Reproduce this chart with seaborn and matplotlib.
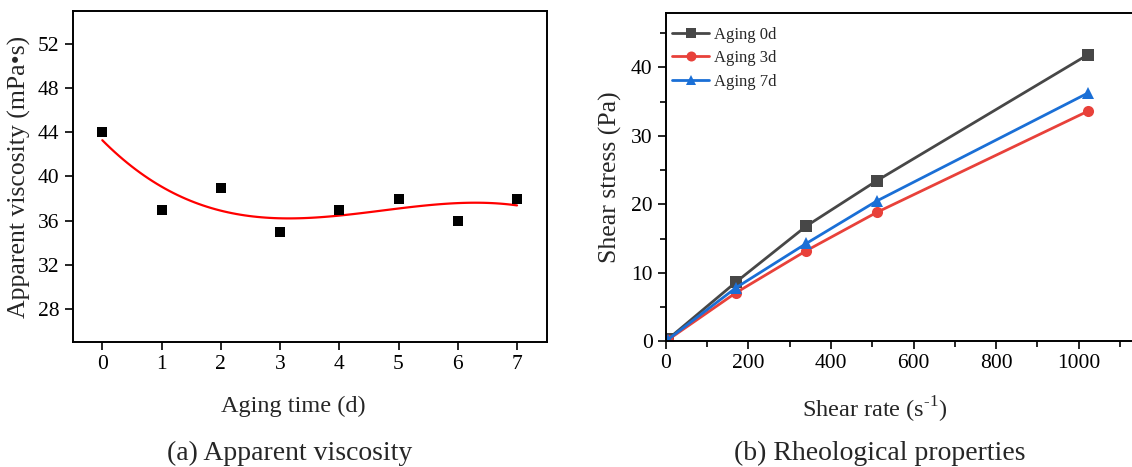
import numpy as np
import pandas as pd
import matplotlib
matplotlib.use("Agg")
import matplotlib.pyplot as plt
from matplotlib.ticker import MultipleLocator
import seaborn as sns

# ---- data ----
aging_days = [0, 1, 2, 3, 4, 5, 6, 7]
viscosity = [44, 37, 39, 35, 37, 38, 36, 38]

shear_rate = [5.1, 170.3, 340.6, 510.9, 1021.8]
stress_0d = [0.3, 8.66, 16.84, 23.45, 41.85]
stress_3d = [0.2, 7.1, 13.24, 18.83, 33.6]
stress_7d = [0.25, 7.83, 14.3, 20.49, 36.25]
series_names = ["Aging 0d", "Aging 3d", "Aging 7d"]

sns.set_style("ticks")
plt.rcParams["font.family"] = ["Liberation Serif", "DejaVu Serif"]
plt.rcParams["mathtext.fontset"] = "custom"
plt.rcParams["mathtext.rm"] = "Liberation Serif"
plt.rcParams["axes.linewidth"] = 1.4
plt.rcParams["xtick.major.width"] = 1.2
plt.rcParams["ytick.major.width"] = 1.2
plt.rcParams["xtick.minor.width"] = 1.2
plt.rcParams["ytick.minor.width"] = 1.2
plt.rcParams["xtick.direction"] = "out"
plt.rcParams["ytick.direction"] = "out"

fig = plt.figure(figsize=(11.32, 4.67), dpi=100)

# ---- panel (a) ----
ax1 = fig.add_axes([0.0642, 0.2677, 0.4187, 0.7088])
df_a = pd.DataFrame({"day": aging_days, "visc": viscosity})
sns.regplot(data=df_a, x="day", y="visc", order=3, ci=None, scatter=False,
            line_kws=dict(color="#ff0000", lw=1.6), ax=ax1)
sns.scatterplot(data=df_a, x="day", y="visc", marker="s", s=50, color="black",
                edgecolor="black", linewidth=0, ax=ax1, zorder=3)
ax1.set_xlim(-0.5, 7.5)
ax1.set_ylim(25, 55)
ax1.set_xticks(range(0, 8))
ax1.set_yticks(range(28, 53, 4))
ax1.tick_params(axis="both", which="major", length=6, labelsize=15.5, colors="black")
ax1.set_xlabel("Aging time (d)", fontsize=17.5)
ax1.set_ylabel("Apparent viscosity (mPa•s)", fontsize=18.5)
for s in ax1.spines.values():
    s.set_visible(True)
    s.set_color("black")
ax1.xaxis.set_label_coords(0.465, -0.163)
ax1.yaxis.set_label_coords(-0.088, 0.5)

# ---- panel (b) ----
ax2 = fig.add_axes([0.5881, 0.2692, 0.4119, 0.7036])
df_b = pd.DataFrame({
    "rate": shear_rate * 3,
    "stress": stress_0d + stress_3d + stress_7d,
    "series": [series_names[0]] * 5 + [series_names[1]] * 5 + [series_names[2]] * 5,
})
palette = {"Aging 0d": "#474747", "Aging 3d": "#e8413a", "Aging 7d": "#1a6fd6"}
markers = {"Aging 0d": "s", "Aging 3d": "o", "Aging 7d": "^"}
sns.lineplot(data=df_b, x="rate", y="stress", hue="series", style="series",
             palette=palette, markers=markers, dashes=False, lw=2,
             markersize=8, markeredgewidth=0, ax=ax2)
ax2.set_xlim(0, 1129)
ax2.set_ylim(0, 48)
ax2.xaxis.set_major_locator(MultipleLocator(200))
ax2.xaxis.set_minor_locator(MultipleLocator(100))
ax2.yaxis.set_major_locator(MultipleLocator(10))
ax2.yaxis.set_minor_locator(MultipleLocator(5))
ax2.tick_params(axis="both", which="major", length=6, labelsize=15.5, colors="black")
ax2.tick_params(axis="both", which="minor", length=4, colors="black")
ax2.spines["right"].set_visible(False)
for s in ["left", "bottom", "top"]:
    ax2.spines[s].set_visible(True)
    ax2.spines[s].set_color("black")
ax2.set_xlabel(r"Shear rate (s$^{\text{-1}}$)", fontsize=17.5)
ax2.set_ylabel("Shear stress (Pa)", fontsize=18.5)
ax2.xaxis.set_label_coords(0.447, -0.163)
ax2.yaxis.set_label_coords(-0.094, 0.5)
leg = ax2.legend(loc="upper left", bbox_to_anchor=(-0.004, 0.983), frameon=False,
                 fontsize=12, handlelength=2.2, borderaxespad=0.0, borderpad=0.5,
                 labelspacing=0.45, handletextpad=0.3, markerscale=0.9)
leg.set_title(None)

# ---- captions ----
fig.text(290 / 1132, 1 - 453 / 467, "(a) Apparent viscosity", fontsize=20,
         ha="center", va="center")
fig.text(880 / 1132, 1 - 453 / 467, "(b) Rheological properties", fontsize=20,
         ha="center", va="center")

fig.savefig("out.png", dpi=100)
